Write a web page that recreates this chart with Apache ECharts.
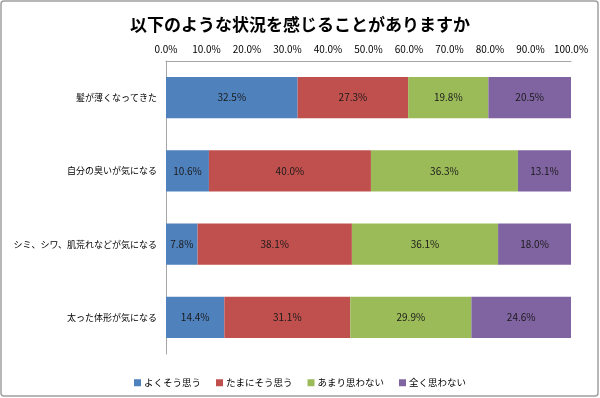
<!DOCTYPE html>
<html>
<head>
<meta charset="utf-8">
<script src="https://cdn.jsdelivr.net/npm/echarts@6/dist/echarts.min.js"></script>
<style>
html,body{margin:0;padding:0;background:#fff;}
#main{width:600px;height:398px;}
</style>
</head>
<body>
<div id="main"></div>
<script>
// 設問と回答
var categories = ['髪が薄くなってきた', '自分の臭いが気になる', 'シミ、シワ、肌荒れなどが気になる', '太った体形が気になる'];
var seriesNames = ['よくそう思う', 'たまにそう思う', 'あまり思わない', '全く思わない'];
var yokuSouOmou = [32.5, 10.6, 7.8, 14.4];
var tamaniSouOmou = [27.3, 40.0, 38.1, 31.1];
var amariOmowanai = [19.8, 36.3, 36.1, 29.9];
var mattakuOmowanai = [20.5, 13.1, 18.0, 24.6];
var colors = ['#4F81BD', '#C0504D', '#9BBB59', '#8064A2'];

var font = '"Noto Sans CJK JP", sans-serif';
var $e = echarts.init(document.getElementById('main'));

function makeSeries(name, data) {
    return {
        name: name,
        type: 'bar',
        stack: 'total',
        barCategoryGap: '44%',
        data: data,
        label: {
            show: true,
            position: 'inside',
            color: '#1a1a1a',
            fontSize: 10,
            fontFamily: font,
            formatter: function (p) {
                return p.value.toFixed(1) + '%';
            }
        }
    };
}

var option = {
    animation: false,
    color: colors,
    title: {
        text: '以下のような状況を感じることがありますか',
        left: 'center',
        top: 11,
        textStyle: {
            fontFamily: font,
            fontSize: 17,
            fontWeight: 'bold',
            color: '#000'
        }
    },
    legend: {
        top: 373,
        left: 'center',
        icon: 'rect',
        itemWidth: 7,
        itemHeight: 7,
        itemGap: 15,
        data: seriesNames,
        textStyle: {
            fontFamily: font,
            fontSize: 9.5,
            color: '#000',
            padding: [0, 0, 0, -2]
        }
    },
    grid: {
        left: 166,
        right: 29,
        top: 61,
        bottom: 44,
        outerBoundsMode: 'none'
    },
    xAxis: {
        type: 'value',
        position: 'top',
        min: 0,
        max: 100,
        interval: 10,
        axisLine: { show: true, lineStyle: { color: '#a6a6a6' } },
        axisTick: { show: false },
        splitLine: { show: false },
        axisLabel: {
            margin: 7,
            fontFamily: font,
            fontSize: 10,
            color: '#000',
            formatter: function (v) {
                return v.toFixed(1) + '%';
            }
        }
    },
    yAxis: {
        type: 'category',
        inverse: true,
        data: categories,
        axisLine: { show: true, lineStyle: { color: '#a6a6a6' } },
        axisTick: { show: false },
        axisLabel: {
            margin: 9,
            fontFamily: font,
            fontSize: 9,
            color: '#000'
        }
    },
    graphic: [{
        type: 'rect',
        shape: { x: 1, y: 1, width: 597, height: 395, r: 3 },
        style: { fill: 'none', stroke: '#a0a0a0', lineWidth: 1.5 },
        silent: true
    }],
    series: [
        makeSeries(seriesNames[0], yokuSouOmou),
        makeSeries(seriesNames[1], tamaniSouOmou),
        makeSeries(seriesNames[2], amariOmowanai),
        makeSeries(seriesNames[3], mattakuOmowanai)
    ]
};

$e.setOption(option);
</script>
</body>
</html>
